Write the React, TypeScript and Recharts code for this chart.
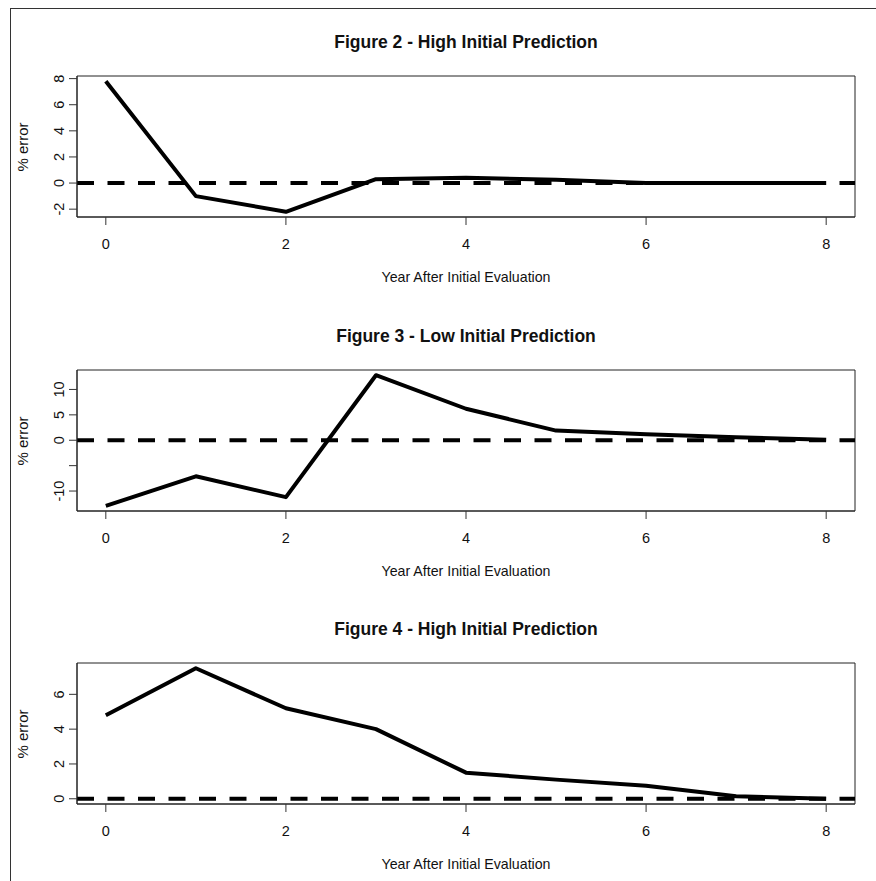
import {
  LineChart,
  Line,
  XAxis,
  YAxis,
  ReferenceLine,
  ReferenceArea,
} from "recharts";

const years = [0, 1, 2, 3, 4, 5, 6, 7, 8];
const fig2Error = [7.8, -1.0, -2.2, 0.3, 0.4, 0.25, 0.0, 0.0, 0.0];
const fig3Error = [-12.9, -7.1, -11.2, 12.8, 6.2, 1.9, 1.2, 0.6, 0.1];
const fig4Error = [4.8, 7.5, 5.2, 4.0, 1.5, 1.1, 0.75, 0.15, 0.0];

const xTicks = [0, 2, 4, 6, 8];
const fig2Ticks = [-2, 0, 2, 4, 6, 8];
const fig3Ticks = [-10, -5, 0, 5, 10];
const fig4Ticks = [0, 2, 4, 6];

const titles = [
  "Figure 2 - High Initial Prediction",
  "Figure 3 - Low Initial Prediction",
  "Figure 4 - High Initial Prediction",
];
const xLabel = "Year After Initial Evaluation";
const yLabel = "% error";

const FONT = '"Liberation Sans", Arial, sans-serif';
const PANEL_H = 293.5;
const W = 876;
const TICK_FONT = 14.5;

// R-style range: data extent padded by 4% on each side
function rRange(values: number[]): [number, number] {
  const lo = Math.min(...values);
  const hi = Math.max(...values);
  const pad = (hi - lo) * 0.04;
  return [lo - pad, hi + pad];
}

const xDomain = rRange(years);

function YTick(props: any) {
  const { x, y, payload, hidden } = props;
  if (hidden && hidden.includes(payload.value)) return null;
  return (
    <text
      x={x}
      y={y}
      transform={`rotate(-90 ${x} ${y})`}
      textAnchor="middle"
      fontSize={TICK_FONT}
      fontFamily={FONT}
      fill="#111"
    >
      {payload.value}
    </text>
  );
}

type PanelProps = {
  top: number;
  title: string;
  values: number[];
  yTicks: number[];
  hiddenTicks?: number[];
};

function Panel({ top, title, values, yTicks, hiddenTicks = [] }: PanelProps) {
  const data = years.map((yr, i) => ({ year: yr, err: values[i] }));
  const yDomain = rRange(values);
  return (
    <div style={{ position: "absolute", left: 0, top, width: W, height: 294 }}>
      <div
        style={{
          position: "absolute",
          left: 0,
          top: 32,
          width: 932,
          lineHeight: "20px",
          fontSize: 17.5,
          fontWeight: "bold",
          fontFamily: FONT,
          textAlign: "center",
          color: "#111",
        }}
      >
        {title}
      </div>
      <LineChart
        width={W}
        height={293}
        data={data}
        margin={{ top: 76, right: 21, left: 17, bottom: 16 }}
      >
        <XAxis
          dataKey="year"
          type="number"
          domain={xDomain}
          ticks={xTicks}
          allowDataOverflow
          height={60}
          tickSize={8}
          tickMargin={14}
          tick={{ fontSize: TICK_FONT, fontFamily: FONT, fill: "#111" }}
          axisLine={{ stroke: "#222" }}
          tickLine={{ stroke: "#333" }}
        />
        <YAxis
          type="number"
          domain={yDomain}
          ticks={yTicks}
          allowDataOverflow
          width={60}
          tickSize={8}
          tickMargin={5}
          tick={<YTick hidden={hiddenTicks} />}
          axisLine={{ stroke: "#222" }}
          tickLine={{ stroke: "#333" }}
        />
        <ReferenceArea
          x1={xDomain[0]}
          x2={xDomain[1]}
          y1={yDomain[0]}
          y2={yDomain[1]}
          fill="none"
          stroke="#222"
          strokeWidth={1}
        />
        <ReferenceLine
          y={0}
          stroke="#000"
          strokeWidth={4}
          strokeDasharray="17 13.5"
        />
        <Line
          type="linear"
          dataKey="err"
          stroke="#000"
          strokeWidth={4}
          strokeLinejoin="round"
          dot={false}
          isAnimationActive={false}
        />
      </LineChart>
      <div
        style={{
          position: "absolute",
          left: 0,
          top: 269,
          width: 932,
          lineHeight: "16px",
          fontSize: 14.2,
          fontFamily: FONT,
          textAlign: "center",
          color: "#111",
        }}
      >
        {xLabel}
      </div>
      <div
        style={{
          position: "absolute",
          left: -17,
          top: 139,
          width: 80,
          lineHeight: "16px",
          fontSize: 15,
          fontFamily: FONT,
          textAlign: "center",
          color: "#111",
          transform: "rotate(-90deg)",
        }}
      >
        {yLabel}
      </div>
    </div>
  );
}

export default function App() {
  return (
    <div
      style={{
        position: "absolute",
        left: 0,
        top: 0,
        width: W,
        height: 881,
        overflow: "hidden",
        background: "#fff",
      }}
    >
      <div
        style={{
          position: "absolute",
          left: 10,
          top: 8,
          width: 900,
          height: 900,
          borderLeft: "1.5px solid #333",
          borderTop: "1.5px solid #333",
        }}
      />
      <Panel top={0} title={titles[0]} values={fig2Error} yTicks={fig2Ticks} />
      <Panel
        top={PANEL_H}
        title={titles[1]}
        values={fig3Error}
        yTicks={fig3Ticks}
        hiddenTicks={[-5]}
      />
      <Panel top={PANEL_H * 2} title={titles[2]} values={fig4Error} yTicks={fig4Ticks} />
    </div>
  );
}
